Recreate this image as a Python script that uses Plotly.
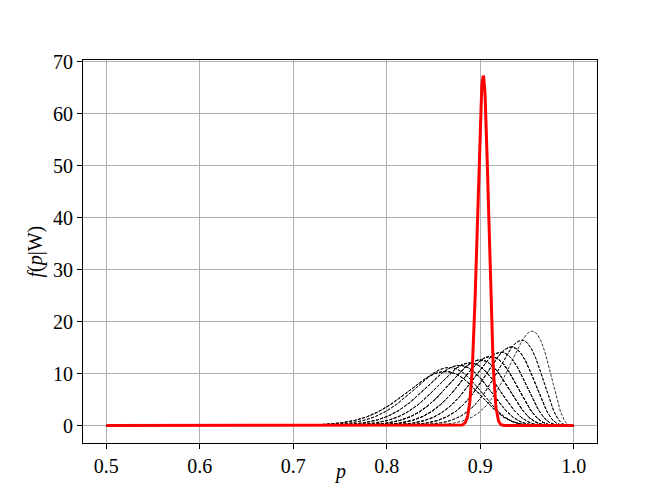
import math
import numpy as np
import plotly.graph_objects as go

# Observed data read from the picture: points won / points played per match group,
# and how many matches share that record
points_won = [69, 78, 79, 80, 81, 82, 83, 84, 85, 86]
points_played = [80, 90, 90, 90, 90, 90, 90, 90, 90, 90]
match_count = [3, 2, 3, 3, 4, 4, 3, 3, 2, 1]

x_ticks = [0.5, 0.6, 0.7, 0.8, 0.9, 1.0]
y_ticks = [0, 10, 20, 30, 40, 50, 60, 70]


def beta_pdf(p, a, b):
    logc = math.lgamma(a + b) - math.lgamma(a) - math.lgamma(b)
    with np.errstate(divide="ignore"):
        return np.exp(logc + (a - 1) * np.log(p) + (b - 1) * np.log1p(-p))


p = np.linspace(0.5, 1.0, 1201)
p_eval = np.clip(p, 1e-12, 1 - 1e-12)

fig = go.Figure()
for k, n, cnt in zip(points_won, points_played, match_count):
    y = beta_pdf(p_eval, k + 1, n - k + 1)
    for _ in range(cnt):
        fig.add_trace(go.Scatter(x=p, y=y, mode="lines",
                                 line=dict(color="black", width=0.8, dash="3px,1.5px"),
                                 showlegend=False, hoverinfo="skip"))

total_won = sum(k * c for k, c in zip(points_won, match_count))
total_pts = sum(n * c for n, c in zip(points_played, match_count))
y_red = beta_pdf(p_eval, total_won + 1, total_pts - total_won + 1)
fig.add_trace(go.Scatter(x=p, y=y_red, mode="lines",
                         line=dict(color="#ff0000", width=3),
                         showlegend=False))

font = dict(family="Liberation Serif, Times New Roman, serif", size=20, color="black")
axis_common = dict(showgrid=True, gridcolor="#b0b0b0", gridwidth=1.1,
                   showline=True, linecolor="black", linewidth=1.1, mirror=True,
                   ticks="outside", ticklen=5, tickwidth=1.1, tickcolor="black",
                   zeroline=False, automargin=False)
fig.update_layout(
    width=664, height=498,
    margin=dict(l=83, r=67, t=60, b=55),
    plot_bgcolor="white", paper_bgcolor="white",
    font=font,
    xaxis=dict(range=[0.475, 1.025], tickvals=x_ticks,
               ticktext=[f"{v:.1f}" for v in x_ticks], **axis_common),
    yaxis=dict(range=[-3.35, 70.35], tickvals=y_ticks, **axis_common),
    annotations=[
        dict(text="<i>p</i>", xref="paper", yref="paper", x=0.5, y=0,
             yshift=-28, xanchor="center", yanchor="middle", showarrow=False, font=font),
        dict(text="<i>f</i>(<i>p</i>|W)", xref="paper", yref="paper", x=0, y=0.5,
             xshift=-48, xanchor="center", yanchor="middle", textangle=-90,
             showarrow=False, font=font),
    ],
)
fig.write_html("out.html", config={"displayModeBar": False},
               post_script="document.body.style.margin='0';")
